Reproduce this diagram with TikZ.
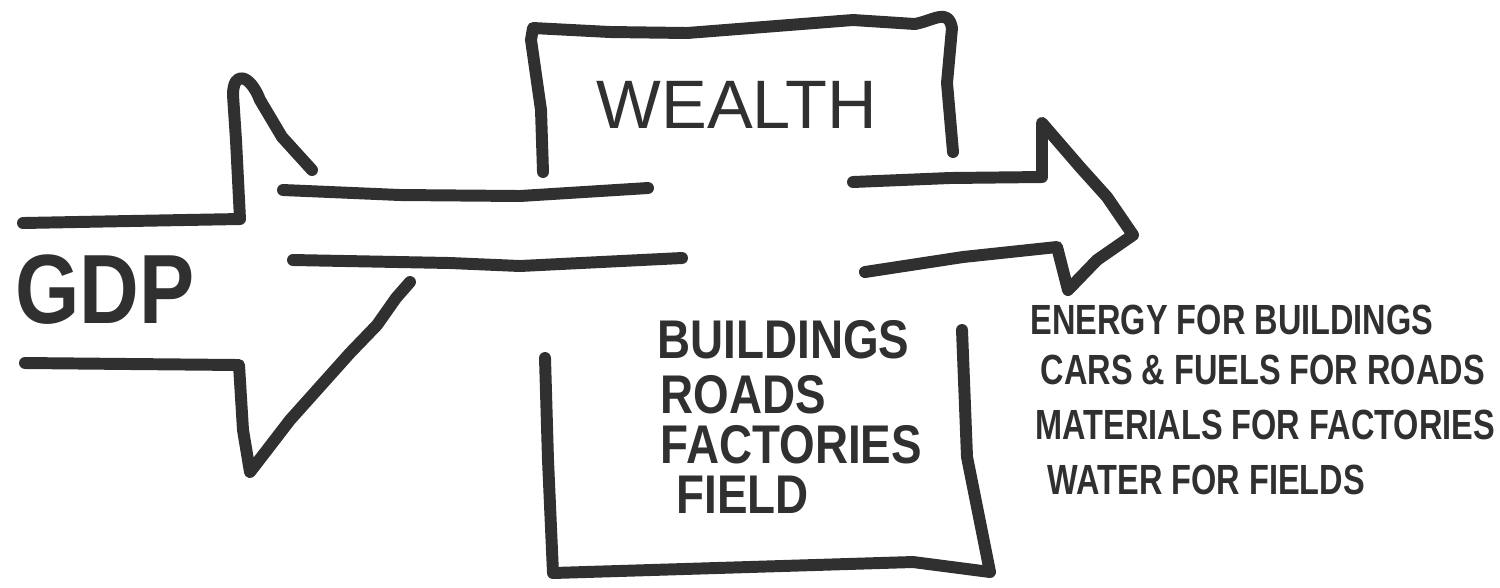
\documentclass[tikz,border=0pt]{standalone}
\usepackage{fontspec}
\usepackage{xcolor}
\usepackage{tikz}
\newfontfamily\handfont[FakeStretch=0.84]{Liberation Sans}
\newfontfamily\flowfont[FakeStretch=0.77]{Liberation Sans}
\newfontfamily\wealthfont{Liberation Sans}
\definecolor{marker}{HTML}{303030}

\begin{document}
\begin{tikzpicture}[x=0.01cm, y=-0.01cm,
    pen/.style={draw=marker, line width=3.4pt, line cap=round, line join=round},
    every node/.style={text=marker, inner sep=0pt},
    bigword/.style={font=\handfont\bfseries\fontsize{28}{32}\selectfont},
    boxword/.style={font=\wealthfont\fontsize{19.5}{23}\selectfont},
    stockword/.style={anchor=west, font=\handfont\bfseries\fontsize{15.5}{18}\selectfont},
    flowword/.style={anchor=west, font=\flowfont\bfseries\fontsize{12}{15}\selectfont}]
        \useasboundingbox (0,0) rectangle (1500,587);

        % Define the GDP arrow on the left
        \draw[pen] (23,223) -- (130,221) -- (240,219) -- (236,140) -- (233,95)
            .. controls (233,70) and (250,74) .. (260,100) -- (282,137) -- (312,170);
        \draw[pen] (410,282) -- (396,298) -- (377,325) -- (350,353) -- (290,420)
            -- (250,472) -- (243,430) -- (239,365) -- (130,364) -- (25,363);
        \draw[pen] (283,190) -- (400,195) -- (520,196) -- (648,188);
        \draw[pen] (293,260) -- (450,263) -- (520,266) -- (682,258);

        % Define the wealth box, open where the flow passes through
        \draw[pen] (543,172) -- (541,110) -- (531,40) -- (533,28) -- (610,32)
            -- (687,33) -- (853,20) -- (915,24) .. controls (935,20) and (948,8) .. (952,28)
            -- (947,83) -- (953,152);
        \draw[pen] (545,358) -- (548,460) -- (553,573) -- (913,562) -- (990,572)
            -- (967,457) -- (962,330);

        % Define the outgoing arrow on the right
        \draw[pen] (853,182) -- (950,178) -- (1042,177) -- (1042,123) -- (1080,167)
            -- (1107,197) -- (1133,235) -- (1097,260) -- (1068,290) -- (1057,247)
            -- (963,257) -- (865,272);

        % Labels
        \node[bigword] (gdp) at (105,290) {GDP};
        \node[boxword] (wealth) at (737,105) {WEALTH};
        \node[stockword] (bldg) at (657,340) {BUILDINGS};
        \node[stockword] (roads) at (660,395) {ROADS};
        \node[stockword] (fact) at (660,445) {FACTORIES};
        \node[stockword] (field) at (676,495) {FIELD};
        \node[flowword] (energy) at (1030,320) {ENERGY FOR BUILDINGS};
        \node[flowword] (cars) at (1040,370) {CARS \& FUELS FOR ROADS};
        \node[flowword] (mats) at (1035,425) {MATERIALS FOR FACTORIES};
        \node[flowword] (water) at (1047,480) {WATER FOR FIELDS};

    \end{tikzpicture}
\end{document}
